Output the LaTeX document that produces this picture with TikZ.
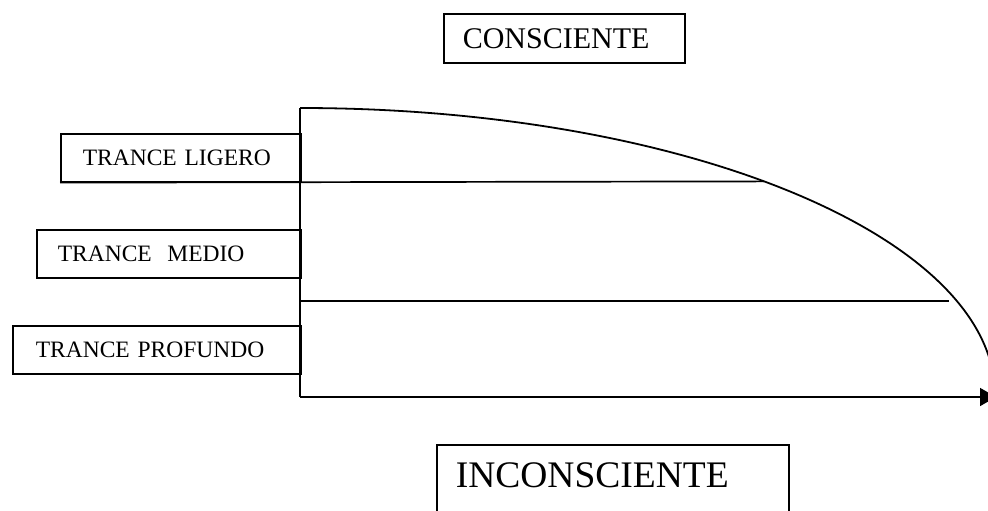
\documentclass[tikz,border=0pt]{standalone}
\usepackage{fontspec}
\setmainfont{Liberation Serif}
\usetikzlibrary{arrows.meta,intersections}
\begin{document}
\begin{tikzpicture}[x=1pt,y=1pt,
  boxstyle/.style={draw=black, line width=1.6pt, rectangle, anchor=north west,
    inner xsep=0pt, inner ysep=0pt, align=left},
  linestyle/.style={line width=1.7pt},
  lbl/.style={font=\fontsize{23.5}{28}\selectfont}]
\useasboundingbox (0,0) rectangle (988,-511);
\clip (0,0) rectangle (988,-511);
\fill[white] (0,0) rectangle (988,-511);
% boxes
\node[boxstyle, minimum width=241pt, minimum height=49pt, text width=241pt,
  font=\fontsize{30}{36}\selectfont] (cons) at (443,-13) {\hspace*{19pt}CONSCIENTE};
\node[boxstyle, lbl, minimum width=240pt, minimum height=48pt, text width=240pt] (lig) at (60,-133) {\hspace*{22pt}TRANCE LIGERO};
\node[boxstyle, lbl, minimum width=264pt, minimum height=48pt, text width=264pt] (med) at (36,-229) {\hspace*{21pt}TRANCE~~MEDIO};
\node[boxstyle, lbl, minimum width=288pt, minimum height=48pt, text width=288pt] (prof) at (12,-325) {\hspace*{23pt}TRANCE PROFUNDO};
\node[draw=black, line width=1.6pt, rectangle, anchor=north west, inner xsep=0pt,
  inner ysep=18pt, text height=25pt, text depth=50pt, minimum width=352pt, text width=352pt, align=left,
  font=\fontsize{37.5}{44}\selectfont] (incons) at (436,-444) {\hspace*{19pt}INCONSCIENTE};
% axes and curve
\coordinate (top) at (300,-108);
\coordinate (origin) at (300,-397);
\coordinate (axisend) at (996,-397);
\coordinate (medstart) at (300,-301);
\coordinate (medend) at (949,-301);
\coordinate (ligfar) at (988,-181);
\draw[linestyle] (top) -- (origin);
\draw[line width=1.8pt, name path=curve] (top) arc[start angle=90, end angle=0, x radius=695, y radius=287];
\path[name path=ligline] (lig.south west) -- (ligfar);
\path[name intersections={of=curve and ligline, by=ligend}];
\draw[linestyle] (lig.south west) -- (ligend);
\draw[linestyle] (medstart) -- (medend);
\draw[linestyle, -{Triangle[length=16pt, width=18pt]}] (origin) -- (axisend);
\end{tikzpicture}
\end{document}
